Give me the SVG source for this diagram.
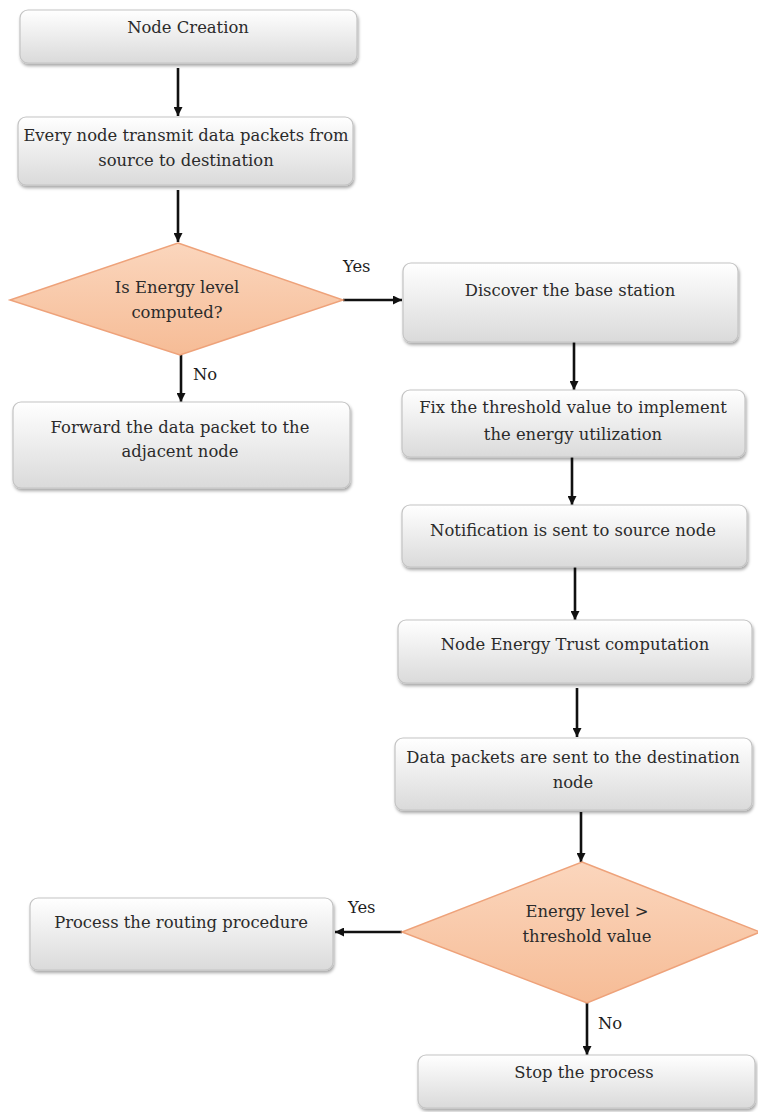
<svg xmlns="http://www.w3.org/2000/svg" width="758" height="1112" viewBox="0 0 758 1112">
<style>
.box{fill:url(#boxg);stroke:#c4c4c4;stroke-width:1.2;filter:url(#sh)}
.dia{fill:url(#diag);stroke:#eea27a;stroke-width:1.5}
.t{font-family:"DejaVu Serif","Liberation Serif",serif;font-size:16.4px;fill:#2b2b2b;text-anchor:middle}
.lbl{font-family:"DejaVu Serif","Liberation Serif",serif;font-size:16.4px;fill:#1e1e1e}
.ar{stroke:#111;stroke-width:2.6;fill:none;marker-end:url(#ah)}
</style>
<defs>
<linearGradient id="boxg" x1="0" y1="0" x2="0" y2="1">
<stop offset="0" stop-color="#ffffff"/>
<stop offset="1" stop-color="#dadada"/>
</linearGradient>
<linearGradient id="diag" x1="0" y1="0" x2="0" y2="1">
<stop offset="0" stop-color="#fbd6bd"/>
<stop offset="1" stop-color="#f6bc96"/>
</linearGradient>
<filter id="sh" x="-5%" y="-10%" width="112%" height="130%">
<feDropShadow dx="1" dy="2.5" stdDeviation="1.6" flood-color="#000" flood-opacity="0.35"/>
</filter>
<marker id="ah" viewBox="0 0 10 10" refX="10" refY="5" markerWidth="9" markerHeight="9" markerUnits="userSpaceOnUse" orient="auto">
<path d="M0,0 L10,5 L0,10 z" fill="#111"/>
</marker>
</defs>
<g id="connectors">
<line class="ar" x1="178" y1="68" x2="178" y2="116"/>
<line class="ar" x1="178" y1="190" x2="178" y2="242"/>
<line class="ar" x1="181" y1="355" x2="181" y2="402"/>
<line class="ar" x1="343" y1="300" x2="402" y2="300"/>
<line class="ar" x1="574" y1="342" x2="574" y2="390"/>
<line class="ar" x1="572" y1="457" x2="572" y2="505"/>
<line class="ar" x1="575" y1="567" x2="575" y2="620"/>
<line class="ar" x1="577" y1="688" x2="577" y2="737"/>
<line class="ar" x1="581" y1="812" x2="581" y2="862"/>
<line class="ar" x1="402" y1="932" x2="335" y2="932"/>
<line class="ar" x1="587" y1="1003" x2="587" y2="1055"/>
<text class="lbl" x="343" y="272">Yes</text>
<text class="lbl" x="193" y="380">No</text>
<text class="lbl" x="348" y="913">Yes</text>
<text class="lbl" x="598" y="1029">No</text>
</g>
<g id="n1"><rect class="box" x="20" y="10" width="337" height="53" rx="8"/><text class="t" x="188" y="33">Node Creation</text></g>
<g id="n2"><rect class="box" x="18" y="117" width="335" height="68" rx="8"/><text class="t" x="186" y="141">Every node transmit data packets from</text><text class="t" x="186" y="166">source to destination</text></g>
<g id="d1"><polygon class="dia" points="178,243 343,300 180,355 10,300"/><text class="t" x="177" y="293">Is Energy level</text><text class="t" x="177" y="318">computed?</text></g>
<g id="n3"><rect class="box" x="13" y="402" width="337" height="86" rx="8"/><text class="t" x="180" y="433">Forward the data packet to the</text><text class="t" x="180" y="457">adjacent node</text></g>
<g id="n4"><rect class="box" x="403" y="263" width="335" height="79" rx="8"/><text class="t" x="570" y="296">Discover the base station</text></g>
<g id="n5"><rect class="box" x="402" y="390" width="343" height="67" rx="8"/><text class="t" x="573" y="413">Fix the threshold value to implement</text><text class="t" x="573" y="440">the energy utilization</text></g>
<g id="n6"><rect class="box" x="402" y="505" width="345" height="62" rx="8"/><text class="t" x="573" y="536">Notification is sent to source node</text></g>
<g id="n7"><rect class="box" x="398" y="620" width="354" height="63" rx="8"/><text class="t" x="575" y="650">Node Energy Trust computation</text></g>
<g id="n8"><rect class="box" x="395" y="738" width="357" height="72" rx="8"/><text class="t" x="573" y="763">Data packets are sent to the destination</text><text class="t" x="573" y="788">node</text></g>
<g id="d2"><polygon class="dia" points="582,862 760,932 587,1003 402,932"/><text class="t" x="587" y="917">Energy level &gt;</text><text class="t" x="587" y="942">threshold value</text></g>
<g id="n9"><rect class="box" x="30" y="898" width="303" height="72" rx="8"/><text class="t" x="181" y="928">Process the routing procedure</text></g>
<g id="n10"><rect class="box" x="418" y="1055" width="337" height="53" rx="8"/><text class="t" x="584" y="1078">Stop the process</text></g>
</svg>
